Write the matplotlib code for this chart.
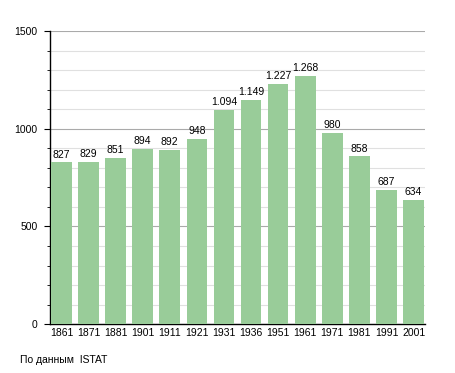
import matplotlib.pyplot as plt
from matplotlib.ticker import MultipleLocator

years = ["1861", "1871", "1881", "1901", "1911", "1921", "1931",
         "1936", "1951", "1961", "1971", "1981", "1991", "2001"]
population = [827, 829, 851, 894, 892, 948, 1094,
              1149, 1227, 1268, 980, 858, 687, 634]
labels = ["827", "829", "851", "894", "892", "948", "1.094",
          "1.149", "1.227", "1.268", "980", "858", "687", "634"]

plt.rcParams["font.family"] = ["Liberation Sans", "DejaVu Sans"]

fig = plt.figure(figsize=(4.55, 3.73), dpi=100)
ax = fig.add_axes([0.11, 0.131, 0.824, 0.786])

x = range(len(years))
ax.bar(x, population, width=0.76, color="#99cc99", zorder=3)

for i, (v, t) in enumerate(zip(population, labels)):
    ax.text(i, v + 15, t, ha="center", va="bottom", fontsize=7.5, zorder=4)

ax.set_ylim(0, 1500)
ax.set_xlim(-0.42, 13.42)
ax.yaxis.set_major_locator(MultipleLocator(500))
ax.yaxis.set_minor_locator(MultipleLocator(100))
ax.grid(axis="y", which="major", color="#aaaaaa", linewidth=0.8, zorder=1)
ax.grid(axis="y", which="minor", color="#e0e0e0", linewidth=0.8, zorder=1)

ax.set_xticks(list(x))
ax.set_xticklabels(years)
ax.tick_params(axis="x", length=0, labelsize=7.5, pad=3)
ax.tick_params(axis="y", which="major", length=4, labelsize=7.5, pad=5)
ax.tick_params(axis="y", which="minor", length=2)

for side in ["top", "right"]:
    ax.spines[side].set_visible(False)
ax.spines["left"].set_linewidth(1)
ax.spines["bottom"].set_linewidth(1)

fig.text(20 / 455, 1 - 360 / 373, "По данным  ISTAT", fontsize=7.5, va="center")

fig.savefig("out.png", dpi=100)
